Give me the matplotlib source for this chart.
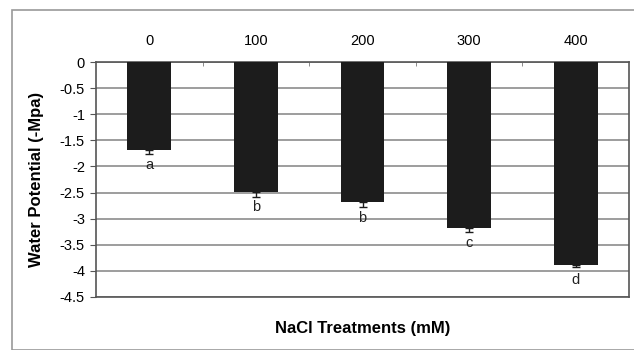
import matplotlib.pyplot as plt
from matplotlib.patches import Rectangle

# data
treatments = ["0", "100", "200", "300", "400"]
water_potential = [-1.68, -2.48, -2.68, -3.17, -3.88]
errors = [0.09, 0.10, 0.09, 0.09, 0.04]
letters = ["a", "b", "b", "c", "d"]
yticks = [0, -0.5, -1, -1.5, -2, -2.5, -3, -3.5, -4, -4.5]

plt.rcParams["font.family"] = ["Liberation Sans", "DejaVu Sans"]

fig = plt.figure(figsize=(6.34, 3.5), dpi=100)
ax = fig.add_axes([96 / 634, 1 - 297 / 350, (629 - 96) / 634, (297 - 62) / 350])

# outer frame round the chart
fig.patches.append(Rectangle((12 / 634, 0), 1, 1 - 10 / 350, transform=fig.transFigure,
                             fill=False, edgecolor="#9a9a9a", linewidth=1.2))

x = range(len(treatments))
ax.bar(x, water_potential, width=0.41, color="#1c1c1c", zorder=3)
ax.errorbar(x, water_potential, yerr=[errors, [0] * len(errors)], fmt="none",
            ecolor="#1c1c1c", capsize=3, elinewidth=1, zorder=4)

for i, (v, e, lab) in enumerate(zip(water_potential, errors, letters)):
    ax.text(i, v - 0.3, lab, ha="center", va="center", fontsize=10.5, color="#222222")

ax.set_xlim(-0.5, len(treatments) - 0.5)
ax.set_ylim(-4.5, 0)
ax.set_yticks(yticks)
ax.set_yticklabels([f"{t:g}" for t in yticks])
ax.yaxis.grid(True, color="#8c8c8c", linewidth=1.2, zorder=0)

ax.xaxis.tick_top()
ax.set_xticks(list(x))
ax.set_xticklabels(treatments)
ax.set_xticks([i + 0.5 for i in range(len(treatments) - 1)], minor=True)
ax.tick_params(axis="x", which="major", length=0, pad=10, labelsize=10.5)
ax.tick_params(axis="x", which="minor", length=3, direction="in", color="#777777")
ax.tick_params(axis="y", length=4, direction="out", labelsize=10.5, color="#555555", pad=4)

for s in ax.spines.values():
    s.set_color("#555555")
    s.set_linewidth(1.2)

ax.set_xlabel("NaCl Treatments (mM)", fontsize=12, fontweight="bold", labelpad=0)
ax.xaxis.set_label_position("bottom")
ax.xaxis.set_label_coords(0.5, -0.1)
ax.set_ylabel("Water Potential (-Mpa)", fontsize=12, fontweight="bold")
ax.yaxis.set_label_coords(-0.098, 0.5)

fig.savefig("out.png", dpi=100)
